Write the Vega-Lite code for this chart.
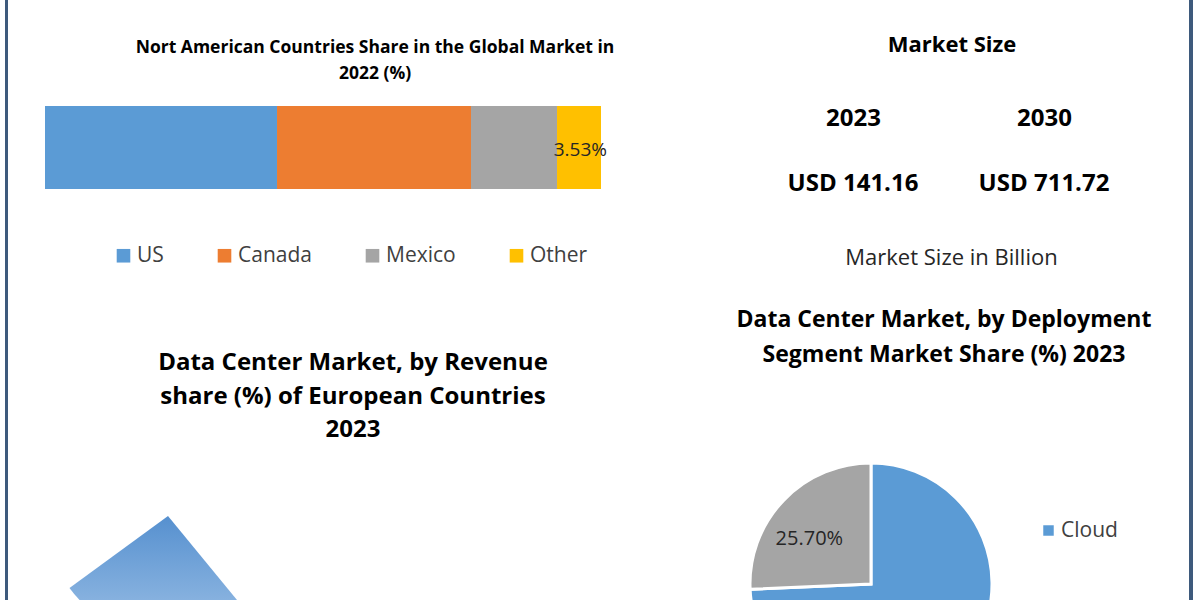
{
  "$schema": "https://vega.github.io/schema/vega-lite/v6.json",
  "background": "white",
  "padding": {"left": 5, "top": 0, "right": 0, "bottom": 0},
  "config": {
    "view": {"stroke": null},
    "font": "Open Sans",
    "text": {"font": "Open Sans"},
    "axis": {"labelFont": "Open Sans", "titleFont": "Open Sans"},
    "legend": {"labelFont": "Open Sans", "titleFont": "Open Sans"},
    "title": {"font": "Open Sans", "fontWeight": "bold", "color": "#000000", "anchor": "middle", "frame": "group", "offset": 0, "baseline": "alphabetic"}
  },
  "columns": 4,
  "align": "each",
  "spacing": 0,
  "bounds": "flush",
  "resolve": {"scale": {"color": "independent", "theta": "independent"}, "legend": {"color": "independent"}},
  "concat": [
    {
      "width": 3,
      "height": 432,
      "view": {"fill": "#3e5a7c", "stroke": null},
      "data": {"values": [{"edge": "left"}]},
      "mark": {"type": "rect", "color": "#3e5a7c"},
      "encoding": {}
    },
    {
      "width": 612,
      "height": 432,
      "title": {"text": ["Nort American Countries Share in the Global Market in", "2022 (%)"], "fontSize": 17.5, "lineHeight": 26, "dx": 61, "dy": 86.5},
      "data": {"values": [
        {"region": "North America", "country": "US", "share": 41.73, "label": ""},
        {"region": "North America", "country": "Canada", "share": 34.89, "label": ""},
        {"region": "North America", "country": "Mexico", "share": 15.47, "label": ""},
        {"region": "North America", "country": "Other", "share": 7.91, "label": "3.53%"}
      ]},
      "encoding": {
        "y": {"field": "region", "type": "nominal", "axis": null, "scale": {"range": [106, 189], "paddingInner": 0, "paddingOuter": 0}},
        "x": {"field": "share", "type": "quantitative", "stack": "zero", "axis": null, "scale": {"domain": [0, 100], "range": [37, 593], "nice": false}},
        "order": {"field": "share", "sort": "descending"}
      },
      "layer": [
        {
          "mark": {"type": "bar"},
          "encoding": {
            "color": {
              "field": "country", "type": "nominal",
              "scale": {"domain": ["US", "Canada", "Mexico", "Other"], "range": ["#5b9bd5", "#ed7d31", "#a5a5a5", "#ffc000"]},
              "legend": {"orient": "none", "direction": "horizontal", "legendX": 105, "legendY": 245, "title": null, "symbolType": "square", "symbolSize": 185, "symbolStrokeWidth": 0, "labelFontSize": 21, "labelColor": "#404040", "columnPadding": 50, "labelOffset": 3, "padding": 0}
            }
          }
        },
        {
          "mark": {"type": "text", "align": "right", "baseline": "middle", "dx": 6, "dy": 2, "fontSize": 19, "color": "#262626"},
          "encoding": {"text": {"field": "label"}, "detail": {"field": "country"}}
        }
      ]
    },
    {
      "width": 569,
      "height": 368,
      "title": {"text": "Market Size", "fontSize": 22, "dx": 47.5, "dy": 60.5},
      "data": {"values": [
        {"year": "2023", "value": 141.16, "label": "USD 141.16"},
        {"year": "2030", "value": 711.72, "label": "USD 711.72"}
      ]},
      "mark": {"type": "text", "fontSize": 24, "fontWeight": "bold", "color": "#000000", "baseline": "middle"},
      "encoding": {
        "x": {
          "field": "year", "type": "nominal",
          "scale": {"type": "point", "range": [233, 424], "padding": 0},
          "axis": {"orient": "bottom", "offset": -268, "domain": false, "ticks": false, "grid": false, "labelPadding": 6.5, "labelFontSize": 24, "labelFontWeight": "bold", "labelColor": "#000000", "labelAngle": 0, "title": "Market Size in Billion", "titleFontSize": 22, "titleFontWeight": "normal", "titleColor": "#262626", "titleX": 331, "titleY": 164, "titleBaseline": "alphabetic", "titleAlign": "center"}
        },
        "text": {"field": "label"}
      }
    },
    {
      "width": 4,
      "height": 432,
      "view": {"fill": "#3e5a7c", "stroke": null},
      "data": {"values": [{"edge": "right"}]},
      "mark": {"type": "rect", "color": "#3e5a7c"},
      "encoding": {}
    },
    {
      "width": 3,
      "height": 168,
      "view": {"fill": "#3e5a7c", "stroke": null},
      "data": {"values": [{"edge": "left"}]},
      "mark": {"type": "rect", "color": "#3e5a7c"},
      "encoding": {}
    },
    {
      "width": 320,
      "height": 168,
      "title": {"text": ["Data Center Market, by Revenue", "share (%) of European Countries", "2023"], "fontSize": 24, "lineHeight": 33.5, "dx": 185, "dy": 14},
      "data": {"values": [{"segment": "Leading country", "share": 25.9}]},
      "mark": {
        "type": "arc", "radius": 122, "clip": true,
        "color": {"gradient": "linear", "x1": 0, "y1": 0, "x2": 0, "y2": 1, "stops": [{"offset": 0, "color": "#5690cf"}, {"offset": 1, "color": "#9cc0e6"}]}
      },
      "encoding": {
        "theta": {"field": "share", "type": "quantitative", "stack": true, "scale": {"domain": [0, 100], "range": [2.4539, 8.7371]}}
      }
    },
    {
      "width": 502,
      "height": 168,
      "title": {"text": ["Data Center Market, by Deployment", "Segment Market Share (%) 2023"], "fontSize": 23, "lineHeight": 35, "dx": 73, "dy": -61},
      "data": {"values": [
        {"deployment": "Cloud", "share": 74.3, "label": ""},
        {"deployment": "On-Premises", "share": 25.7, "label": "25.70%"}
      ]},
      "encoding": {
        "theta": {"field": "share", "type": "quantitative", "stack": true},
        "order": {"field": "share", "sort": "descending"}
      },
      "layer": [
        {
          "mark": {"type": "arc", "radius": 121, "yOffset": 68, "clip": true, "stroke": "white", "strokeWidth": 3},
          "encoding": {
            "color": {
              "field": "deployment", "type": "nominal",
              "scale": {"domain": ["Cloud", "On-Premises"], "range": ["#5b9bd5", "#a5a5a5"]},
              "legend": {"orient": "none", "legendX": 418, "legendY": 88, "values": ["Cloud"], "title": null, "symbolType": "square", "symbolSize": 110, "symbolStrokeWidth": 0, "labelFontSize": 21, "labelColor": "#404040", "labelOffset": 2, "padding": 0}
            }
          }
        },
        {
          "mark": {"type": "text", "radius": 77, "yOffset": 68, "dx": -6, "dy": 8, "clip": true, "fontSize": 20, "color": "#262626"},
          "encoding": {"text": {"field": "label"}, "detail": {"field": "deployment"}}
        }
      ]
    },
    {
      "width": 4,
      "height": 168,
      "view": {"fill": "#3e5a7c", "stroke": null},
      "data": {"values": [{"edge": "right"}]},
      "mark": {"type": "rect", "color": "#3e5a7c"},
      "encoding": {}
    }
  ]
}
